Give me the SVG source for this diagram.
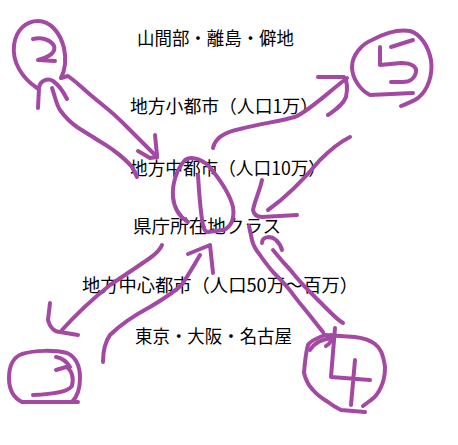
<svg xmlns="http://www.w3.org/2000/svg" width="458" height="445" viewBox="0 0 458 445">
<style>
.t{font-family:"Noto Sans CJK JP","Noto Sans",sans-serif;font-size:18px;fill:#000}
.p{fill:none;stroke:#A349A4;stroke-width:4;stroke-linecap:round;stroke-linejoin:round}
</style>
<rect width="458" height="445" fill="#fff"/>
<g id="labels">
<g id="label-1"><text class="t" x="137" y="45" textLength="157" lengthAdjust="spacingAndGlyphs">山間部・離島・僻地</text></g>
<g id="label-2"><text class="t" x="130" y="113" textLength="188" lengthAdjust="spacingAndGlyphs">地方小都市（人口1万）</text></g>
<g id="label-3"><text class="t" x="130" y="175" textLength="196" lengthAdjust="spacingAndGlyphs">地方中都市（人口10万）</text></g>
<g id="label-4"><text class="t" x="133" y="233" textLength="148" lengthAdjust="spacingAndGlyphs">県庁所在地クラス</text></g>
<g id="label-5"><text class="t" x="82" y="292" textLength="276" lengthAdjust="spacingAndGlyphs">地方中心都市（人口50万～百万）</text></g>
<g id="label-6"><text class="t" x="135" y="343" textLength="157" lengthAdjust="spacingAndGlyphs">東京・大阪・名古屋</text></g>
</g>
<g id="circle-2">
<path class="p" d="M37,88 C22,78 12,62 14,45 C16,30 26,21 38,21 C50,21 60,32 64,48 C67,62 64,72 61,78"/>
<path class="p" d="M33,39 C42,37 51,40 54,46 C56,52 50,57 38,60 L55,61"/>
</g>
<g id="circle-5">
<path class="p" d="M413,93 L370,95 C360,90 352,78 352,67 C352,55 362,44 372,40 C385,33 398,29 410,31 C420,34 428,45 431,60 C433,75 428,90 418,98 C412,102 406,104 401,106"/>
<path class="p" d="M391,47 L413,40 M380,47 L380,65 L401,63 C412,63 417,67 416,72 C415,78 410,82 403,82 L391,82"/>
</g>
<g id="circle-3">
<path class="p" d="M78,402 L22,402 C14,398 9,390 9,378 C9,365 14,357 22,354 C35,350 55,350 67,353 C76,357 80,366 80,378 C80,390 76,398 72,402"/>
<path class="p" d="M56,357 C62,358 67,362 70,367 M56,370 L66,367 C72,370 74,378 72,386 C68,392 55,394 33,395"/>
</g>
<g id="circle-4">
<path class="p" d="M325,335 L355,337 C362,338 370,340 375,344 C380,348 383,353 385,367 C385,377 383,383 381,387 C378,394 374,398 371,400 L363,406"/>
<path class="p" d="M325,335 C317,338 310,341 308,345 C306,352 305,360 304,373 C306,381 309,386 313,390 C318,396 323,399 328,402 C333,406 337,408 341,410 L365,412"/>
<path class="p" d="M310,350 C315,342 322,340 330,338 M326,346 C330,344 332,340 331,335"/>
<path class="p" d="M335,328 L331,377 L370,380 M355,360 L351,405"/>
</g>
<g id="connectors">
<path class="p" d="M61,78 L68,76 C72,79 76,82 78,84 C84,89 88,93 93,97 C99,102 104,106 110,111 C116,116 121,121 127,127 C133,133 138,138 143,143 C148,148 152,152 157,157"/>
<path class="p" d="M155,135 L157,155 M138,151 L150,158 L157,157"/>
<path class="p" d="M38,108 L39,88 C40,80 48,78 53,81 C60,86 64,93 67,99"/>
<path class="p" d="M52,88 C55,96 56,104 60,110 C65,117 70,122 77,127 C83,131 88,134 93,137 C100,142 107,145 113,150 C120,155 127,161 132,167 L137,177"/>
<path class="p" d="M213,148 C215,138 225,132 240,129 C260,124 280,121 295,117 C310,110 325,95 347,78"/>
<path class="p" d="M318,77 L344,77 C348,82 347,92 346,97 C343,105 335,110 328,115"/>
<path class="p" d="M350,137 C340,142 330,150 320,160 C305,178 285,198 268,210"/>
<path class="p" d="M262,180 C260,190 255,200 253,210 C254,215 257,217 262,217 L297,215"/>
<path class="p" d="M188,222 C180,217 174,208 173,197 C172,185 176,170 185,160 C192,155 205,160 212,170 C220,180 230,195 233,207 C235,220 230,228 223,230 L208,232 C206,232 204,230 203,225 C200,210 199,190 198,175"/>
<path class="p" d="M103,362 C103,350 105,342 110,335 C120,325 135,315 150,307 C165,298 178,290 183,283 C190,272 196,262 200,255"/>
<path class="p" d="M188,254 L210,245 L213,273"/>
<path class="p" d="M162,245 C160,250 157,253 150,258 C140,265 125,275 110,285 C95,297 80,310 62,330"/>
<path class="p" d="M50,303 L48,320 C50,328 55,332 60,332 L78,335"/>
<path class="p" d="M323,332 C318,326 312,318 303,307 C297,300 293,294 288,288 C283,282 278,277 273,272 C268,266 264,261 260,255 C256,250 253,245 252,240 L249,226"/>
<path class="p" d="M343,323 C338,320 334,316 330,312 C324,306 318,300 313,295 C307,289 302,284 297,278 C292,272 288,267 283,262 L273,250"/>
<path class="p" d="M262,243 C262,237 270,235 276,240 C279,243 281,246 282,250"/>
</g>
</svg>
